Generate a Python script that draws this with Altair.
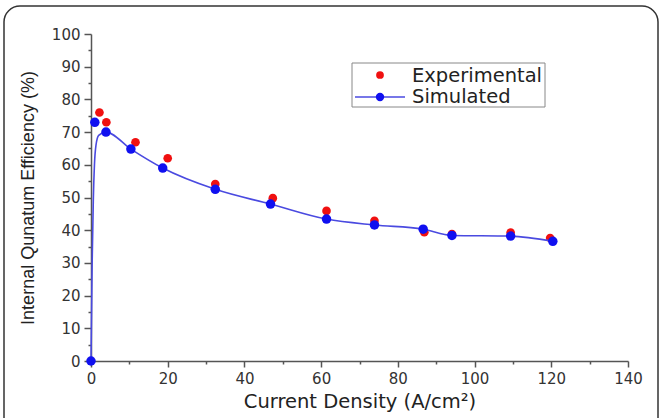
import altair as alt
import pandas as pd

# Experimental (red dots)
x_exp = [2.2, 4.0, 11.6, 20.0, 32.4, 47.4, 61.4, 73.9, 86.9, 94.1, 109.4, 119.7]
y_exp = [76.0, 73.0, 66.9, 62.0, 54.1, 49.8, 45.9, 42.9, 39.4, 38.8, 39.3, 37.6]

# Simulated (blue dots)
x_sim = [0.0, 1.0, 3.9, 10.4, 18.7, 32.4, 46.8, 61.4, 73.9, 86.6, 94.1, 109.4, 120.4]
y_sim = [0.0, 73.0, 70.0, 64.8, 59.0, 52.5, 48.0, 43.4, 41.6, 40.3, 38.4, 38.2, 36.6]

# Simulated curve
x_curve = [0.0, 0.3, 0.6, 0.9, 1.3, 2.0, 3.9, 10.4, 18.7, 32.4, 46.8, 61.4, 73.9, 86.6, 94.1, 109.4, 120.4]
y_curve = [0.0, 30.0, 49.0, 60.0, 66.0, 69.0, 70.0, 64.8, 59.0, 52.5, 48.0, 43.4, 41.6, 40.3, 38.4, 38.2, 36.6]

x_ticks = list(range(0, 141, 10))
y_ticks = list(range(0, 101, 5))

df_exp = pd.DataFrame({"x": x_exp, "y": y_exp})
df_sim = pd.DataFrame({"x": x_sim, "y": y_sim})
df_curve = pd.DataFrame({"x": x_curve, "y": y_curve})

FONT = "DejaVu Sans"
AX = "#555555"

xscale = alt.Scale(domain=[0, 140], nice=False, zero=False)
yscale = alt.Scale(domain=[0, 100], nice=False, zero=False)

xaxis = alt.Axis(
    values=x_ticks,
    labelExpr="datum.value % 20 === 0 ? datum.label : ''",
    labelOverlap=False, labelFlush=False,
    tickSize={"condition": {"test": "datum.value % 20 === 0", "value": 6}, "value": 3},
    grid=False, domainColor=AX, tickColor=AX, domainWidth=1.5, tickWidth=1.5,
    labelFont=FONT, labelFontSize=15, labelColor="#333333", labelPadding=4,
    title="Current Density (A/cm²)", titleFont=FONT, titleFontSize=19.5,
    titleFontWeight="normal", titleColor="#222222", titlePadding=6,
)
yaxis = alt.Axis(
    values=y_ticks,
    labelExpr="datum.value % 10 === 0 ? datum.label : ''",
    labelOverlap=False, labelFlush=False,
    tickSize={"condition": {"test": "datum.value % 10 === 0", "value": 7}, "value": 3},
    grid=False, domainColor=AX, tickColor=AX, domainWidth=1.5, tickWidth=1.5,
    labelFont=FONT, labelFontSize=15, labelColor="#333333", labelPadding=4,
    title="Internal Qunatum Efficiency (%)", titleFont="Liberation Sans", titleFontSize=18,
    titleFontWeight="normal", titleColor="#222222", titlePadding=14,
)

X = alt.X("x:Q", scale=xscale, axis=xaxis)
Y = alt.Y("y:Q", scale=yscale, axis=yaxis)

frame = alt.Chart(pd.DataFrame({"a": [0]})).mark_rect(
    fill=None, stroke="#333333", strokeWidth=1.5, cornerRadius=16, clip=False
).encode(
    x=alt.value(-87), x2=alt.value(567), y=alt.value(-28), y2=alt.value(420)
)

exp_pts = alt.Chart(df_exp).mark_circle(color="#f01010", size=75, opacity=1).encode(x=X, y=Y)
curve = alt.Chart(df_curve).mark_line(color="#4a4ae0", strokeWidth=1.6, interpolate="monotone").encode(x=X, y=Y)
sim_pts = alt.Chart(df_sim).mark_circle(color="#1010f0", size=90, opacity=1).encode(x=X, y=Y)

# legend (manual)
leg_src = pd.DataFrame({"a": [0]})
leg_box = alt.Chart(leg_src).mark_rect(fill="white", stroke="#888888", strokeWidth=1).encode(
    x=alt.value(261), x2=alt.value(454), y=alt.value(29), y2=alt.value(73)
)
leg_dot1 = alt.Chart(leg_src).mark_circle(color="#f01010", size=60, opacity=1).encode(
    x=alt.value(289), y=alt.value(41)
)
leg_line = alt.Chart(leg_src).mark_rule(color="#4a4ae0", strokeWidth=1.5).encode(
    x=alt.value(264), x2=alt.value(314), y=alt.value(63)
)
leg_dot2 = alt.Chart(leg_src).mark_circle(color="#1010f0", size=70, opacity=1).encode(
    x=alt.value(289), y=alt.value(63)
)
leg_t1 = alt.Chart(leg_src).mark_text(text="Experimental", font=FONT, fontSize=19.5, align="left", baseline="middle", color="#222222").encode(
    x=alt.value(321), y=alt.value(42)
)
leg_t2 = alt.Chart(leg_src).mark_text(text="Simulated", font=FONT, fontSize=19.5, align="left", baseline="middle", color="#222222").encode(
    x=alt.value(321), y=alt.value(63)
)

chart = alt.layer(
    frame, exp_pts, curve, sim_pts, leg_box, leg_dot1, leg_line, leg_dot2, leg_t1, leg_t2
).properties(
    width=537, height=327,
    autosize=alt.AutoSizeParams(type="none"),
    padding={"left": 91, "top": 34, "right": 33, "bottom": 57},
    background="white",
).configure_view(stroke=None).configure_axis(labelOverlap=False, labelFlush=False)

chart.save("out.html", embed_options={"renderer": "svg", "actions": False})
